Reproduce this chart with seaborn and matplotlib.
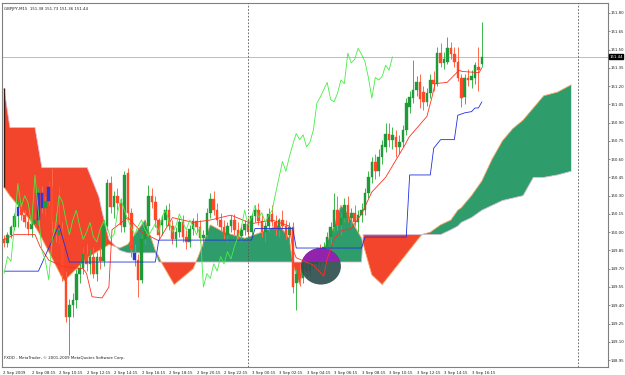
import numpy as np
import pandas as pd
import matplotlib
matplotlib.use("Agg")
import matplotlib.pyplot as plt
import seaborn as sns
from matplotlib.patches import Ellipse, Rectangle

# ---------------- data ----------------
title_text = "GBPJPY,M15  151.38 151.73 151.36 151.44"
copyright_text = "FXDD - MetaTrader, \u00a9 2001-2009 MetaQuotes Software Corp."
x_tick_labels = ["2 Sep 2009", "2 Sep 08:15", "2 Sep 10:15", "2 Sep 12:15", "2 Sep 14:15",
                 "2 Sep 16:15", "2 Sep 18:15", "2 Sep 20:15", "2 Sep 22:15", "3 Sep 00:15",
                 "3 Sep 02:15", "3 Sep 04:15", "3 Sep 06:15", "3 Sep 08:15", "3 Sep 10:15",
                 "3 Sep 12:15", "3 Sep 14:15", "3 Sep 16:15"]
x_tick_bars = [-0.3, 8, 16, 24, 32, 40, 48, 56, 64, 72, 80, 88, 96, 104, 112, 120, 128, 136]
y_ticks = [148.95, 149.10, 149.25, 149.40, 149.55, 149.70, 149.85, 150.00, 150.15, 150.30,
           150.45, 150.60, 150.75, 150.90, 151.05, 151.20, 151.35, 151.50, 151.65, 151.80]
last_price = 151.44
day_separators = [71, 167]

opens = [149.94, 149.91, 149.98, 150.04, 150.13, 150.21, 150.14, 150.08, 150.03, 150.07,
         150.10, 150.32, 150.20, 150.26, 150.37, 150.08, 149.98, 150.02, 149.63, 149.30,
         149.40, 149.44, 149.66, 149.71, 149.82, 149.74, 149.80, 149.66, 149.80, 149.76,
         150.05, 150.40, 150.21, 150.30, 150.24, 150.04, 150.49, 150.16, 149.83, 149.77,
         149.61, 149.94, 150.05, 150.30, 150.25, 150.10, 150.06, 150.10, 150.18, 150.05,
         149.94, 150.00, 150.08, 149.96, 149.92, 150.03, 150.09, 150.04, 149.95, 149.98,
         150.16, 150.27, 150.18, 150.10, 150.04, 149.98, 150.05, 150.10, 150.02, 149.97,
         150.02, 150.07, 150.00, 150.13, 150.18, 150.09, 150.00, 150.05, 150.15, 150.08,
         150.02, 150.10, 150.05, 149.98, 150.04, 149.58, 149.66, 149.62, 149.74, 149.68,
         149.80, 149.74, 149.84, 149.78, 149.88, 149.96, 150.04, 150.18, 150.06, 150.12,
         150.22, 150.12, 150.16, 150.08, 150.14, 150.18, 150.32, 150.45, 150.58, 150.50,
         150.62, 150.70, 150.81, 150.76, 150.78, 150.70, 150.74, 150.84, 151.03, 151.10,
         151.17, 151.23, 151.15, 151.07, 151.14, 151.25, 151.22, 151.47, 151.39, 151.40,
         151.51, 151.46, 151.40, 151.27, 151.11, 151.27, 151.25, 151.27, 151.36, 151.38]
highs = [149.98, 150.00, 150.06, 150.16, 150.26, 150.24, 150.18, 150.12, 150.10, 150.16,
         150.36, 150.38, 150.30, 150.42, 150.52, 150.16, 150.37, 150.08, 149.68, 149.45,
         149.50, 149.70, 149.76, 149.88, 149.90, 149.86, 149.88, 149.84, 149.88, 150.10,
         150.44, 150.46, 150.34, 150.36, 150.28, 150.50, 150.53, 150.20, 149.90, 149.82,
         149.98, 150.10, 150.39, 150.36, 150.30, 150.12, 150.14, 150.22, 150.24, 150.10,
         150.04, 150.12, 150.14, 150.02, 150.06, 150.12, 150.16, 150.10, 150.02, 150.20,
         150.32, 150.34, 150.24, 150.16, 150.10, 150.08, 150.14, 150.15, 150.08, 150.06,
         150.10, 150.12, 150.16, 150.22, 150.24, 150.14, 150.08, 150.20, 150.22, 150.14,
         150.12, 150.18, 150.10, 150.08, 150.08, 149.70, 149.74, 149.78, 149.82, 149.84,
         149.86, 149.88, 149.90, 149.92, 150.00, 150.08, 150.32, 150.30, 150.16, 150.28,
         150.30, 150.20, 150.22, 150.18, 150.24, 150.36, 150.50, 150.62, 150.64, 150.68,
         150.76, 150.90, 150.90, 150.86, 150.84, 150.80, 150.88, 151.10, 151.16, 151.41,
         151.28, 151.30, 151.20, 151.18, 151.30, 151.32, 151.52, 151.55, 151.48, 151.60,
         151.56, 151.52, 151.52, 151.30, 151.30, 151.34, 151.33, 151.40, 151.52, 151.73]
lows = [149.88, 149.88, 149.95, 150.02, 150.04, 150.10, 150.04, 149.98, 149.96, 150.04,
        150.06, 150.16, 150.14, 150.22, 150.00, 149.92, 149.90, 149.60, 149.26, 148.99,
        149.30, 149.38, 149.58, 149.66, 149.68, 149.66, 149.62, 149.60, 149.70, 149.72,
        150.02, 150.16, 150.12, 150.18, 150.00, 150.00, 150.10, 149.80, 149.72, 149.47,
        149.58, 149.90, 149.96, 150.20, 150.04, 149.94, 149.98, 150.05, 150.02, 149.90,
        149.88, 149.96, 149.92, 149.86, 149.88, 149.98, 150.00, 149.92, 149.88, 149.95,
        150.12, 150.14, 150.06, 150.00, 149.94, 149.92, 150.00, 149.98, 149.94, 149.92,
        149.98, 149.98, 149.97, 150.08, 150.06, 149.96, 149.92, 150.00, 150.05, 149.98,
        149.96, 150.02, 149.94, 149.92, 149.50, 149.36, 149.56, 149.58, 149.64, 149.64,
        149.70, 149.70, 149.72, 149.74, 149.84, 149.90, 150.00, 150.02, 149.98, 150.08,
        150.08, 150.04, 150.05, 150.00, 150.08, 150.14, 150.28, 150.40, 150.44, 150.46,
        150.56, 150.66, 150.70, 150.68, 150.62, 150.64, 150.70, 150.80, 150.98, 151.06,
        151.12, 151.02, 151.00, 151.04, 151.10, 151.16, 151.20, 151.36, 151.34, 151.38,
        151.42, 151.36, 151.24, 151.03, 151.05, 151.20, 151.18, 151.22, 151.16, 151.36]
closes = [149.91, 149.98, 150.04, 150.13, 150.21, 150.14, 150.08, 150.03, 150.07, 150.10,
          150.32, 150.20, 150.26, 150.37, 150.08, 149.98, 150.02, 149.65, 149.30, 149.40,
          149.44, 149.66, 149.71, 149.82, 149.74, 149.80, 149.66, 149.80, 149.76, 150.05,
          150.40, 150.21, 150.30, 150.24, 150.06, 150.47, 150.16, 149.85, 149.77, 149.61,
          149.94, 150.05, 150.30, 150.25, 150.10, 149.98, 150.10, 150.18, 150.05, 149.94,
          150.00, 150.08, 149.96, 149.92, 150.03, 150.09, 150.04, 149.95, 149.98, 150.16,
          150.27, 150.18, 150.10, 150.04, 149.98, 150.05, 150.10, 150.02, 149.97, 150.02,
          150.07, 150.00, 150.13, 150.18, 150.09, 150.00, 150.05, 150.15, 150.08, 150.02,
          150.10, 150.05, 149.98, 150.04, 149.55, 149.66, 149.62, 149.74, 149.68, 149.80,
          149.74, 149.84, 149.78, 149.88, 149.96, 150.04, 150.18, 150.06, 150.12, 150.22,
          150.12, 150.16, 150.08, 150.14, 150.18, 150.32, 150.45, 150.58, 150.50, 150.62,
          150.72, 150.81, 150.76, 150.80, 150.70, 150.74, 150.84, 151.06, 151.11, 151.17,
          151.23, 151.09, 151.07, 151.14, 151.25, 151.22, 151.47, 151.39, 151.42, 151.51,
          151.46, 151.40, 151.27, 151.10, 151.27, 151.25, 151.28, 151.37, 151.33, 151.44]
blue_bars = [4, 10, 11, 13, 38]

# Ichimoku lines read as breakpoints (bar index, price)
tenkan_bars = [0, 3, 9, 10.5, 13, 17, 23, 24, 25.6, 28.5, 30.5, 31.4, 36, 40, 45, 49, 55, 60, 66, 72, 78, 83,
               84, 85, 90, 93, 94, 96, 98, 101, 104, 107, 111, 116.7, 117.8, 123, 124.5, 125.4, 128.9,
               132.4, 133.2, 138.2, 139]
tenkan_vals = [149.94, 149.98, 149.98, 149.88, 149.77, 149.72, 149.70, 149.66, 149.47, 149.46, 149.55, 150.02,
               150.12, 150.00, 149.93, 150.12, 150.08, 150.10, 150.14, 150.07, 150.10, 150.05, 149.86, 149.79,
               149.73, 149.64, 149.78, 149.94, 150.01, 150.03, 150.15, 150.33, 150.45, 150.72, 150.78,
               150.95, 151.11, 151.22, 151.23, 151.33, 151.32, 151.31, 151.35]
kijun_bars = [0, 10, 16, 19, 44, 45, 72, 73, 84, 85, 104, 105, 117, 118, 124, 125, 127, 131, 132, 134, 136,
              137, 138, 139]
kijun_vals = [149.68, 149.68, 150.06, 149.755, 149.755, 149.935, 149.935, 150.03, 150.03, 149.87, 149.87,
              149.96, 149.96, 150.47, 150.47, 150.69, 150.76, 150.76, 150.96, 150.98, 150.99, 151.02, 151.02,
              151.07]
cloud_bars = [0, 1.7, 9, 11, 17, 17.5, 24.2, 27.6, 28.5, 30.5, 33.7, 36, 41, 44, 45, 46, 49.5, 55, 56.5, 60, 64,
              70, 75, 80, 83, 84, 86, 87.5, 88, 93, 96, 98, 100, 103, 104, 104.5, 107, 110, 121.5, 124, 127,
              130, 132, 133, 136, 139, 142, 145, 148, 151, 154, 157, 161, 165]
span_a = [150.37, 150.30, 150.05, 149.95, 149.62, 149.60, 149.79, 149.85, 149.86, 149.90, 149.87, 149.90,
          150.10, 149.85, 149.80, 149.74, 149.57, 149.70, 149.80, 150.06, 150.00, 149.95, 150.00, 150.06,
          149.95, 149.74, 149.57, 149.74, 149.80, 149.86, 150.05, 150.22, 150.15, 150.00, 149.95, 149.90,
          149.65, 149.57, 149.98, 150.00, 150.06, 150.10, 150.18, 150.20, 150.30, 150.42, 150.60, 150.75,
          150.85, 150.92, 151.02, 151.12, 151.15, 151.21]
span_b = [151.18, 150.86, 150.86, 150.53, 150.53, 150.53, 150.53, 150.29, 150.17, 149.94, 149.85, 149.83,
          149.83, 149.83, 149.755, 149.755, 149.755, 149.755, 149.755, 149.755, 149.755, 149.755, 149.755,
          149.755, 149.755, 149.755, 149.755, 149.755, 149.755, 149.755, 149.755, 149.755, 149.755, 149.755,
          149.755, 149.98, 149.98, 149.98, 149.98, 149.98, 149.98, 150.02, 150.05, 150.08, 150.12, 150.18,
          150.22, 150.26, 150.28, 150.30, 150.45, 150.45, 150.47, 150.50]

# ---------------- figure ----------------
sns.set_theme(style="white")
plt.rcParams['font.family'] = ['DejaVu Sans']
FS = 2.8
fig = plt.figure(figsize=(6.25, 3.75), dpi=100)
ax = fig.add_axes([2 / 625, 1 - 367 / 375, 606 / 625, 364 / 375])
ax.set_facecolor("white")
ax.set_xlim(-0.6, 175.7)
ax.set_ylim(148.893, 151.882)

GREEN_CLOUD = "#2f9c6c"
RED_CLOUD = "#f2452b"

# cloud
cb = np.array(cloud_bars, dtype=float)
grid = np.linspace(cb.min(), cb.max(), 2000)
a = np.interp(grid, cb, span_a)
b = np.interp(grid, cb, span_b)
ax.fill_between(grid, a, b, where=a >= b, color=GREEN_CLOUD, lw=0, interpolate=True, zorder=1)
ax.fill_between(grid, a, b, where=a < b, color=RED_CLOUD, lw=0, interpolate=True, zorder=1)
sns.lineplot(x=cloud_bars, y=span_a, ax=ax, color="#f4a460", lw=0.6, zorder=2)
sns.lineplot(x=cloud_bars, y=span_b, ax=ax, color="#d8bfd8", lw=0.6, zorder=2)
ax.vlines([cloud_bars[0]], [span_a[0]], [span_b[0]], color="#3a1a10", lw=1.0, zorder=2.5)

# candles
n = len(closes)
idx = np.arange(n)
df = pd.DataFrame({"bar": idx, "open": opens, "close": closes, "high": highs, "low": lows})
up = (df.close >= df.open).values
blue = df.bar.isin(blue_bars).values
ax.vlines(df.bar[up], df.low[up], df.high[up], color="#3cb84a", lw=0.7, zorder=4)
ax.vlines(df.bar[~up], df.low[~up], df.high[~up], color="#ff6a4a", lw=0.7, zorder=4)
body_lo = np.minimum(df.open, df.close)
body_h = (df.close - df.open).abs().clip(lower=0.006)
m_up = up & ~blue
m_dn = ~up & ~blue
ax.bar(df.bar[m_up], body_h[m_up], bottom=body_lo[m_up], width=0.75, color="#1f9a3a", edgecolor="#1f9a3a", lw=0.3, zorder=5)
ax.bar(df.bar[m_dn], body_h[m_dn], bottom=body_lo[m_dn], width=0.75, color="#ff4a2a", edgecolor="#ff4a2a", lw=0.3, zorder=5)
ax.bar(df.bar[blue], body_h[blue], bottom=body_lo[blue], width=0.75, color="#2a3ad8", edgecolor="#2a3ad8", lw=0.3, zorder=5)

# ellipse objects (drawn over the candles)
ell = Ellipse((92.2, 149.72), 11.6, 0.30, facecolor="#2f4f4f", edgecolor="none", alpha=0.92, zorder=5.5)
ax.add_patch(ell)
ell2 = Ellipse((92.2, 149.72), 11.6, 0.30, facecolor="#9b1fb5", edgecolor="none", alpha=0.92, zorder=5.6)
ax.add_patch(ell2)
clip = Rectangle((80, 149.755), 30, 0.5, transform=ax.transData)
ell2.set_clip_path(clip)

# ichimoku lines
sns.lineplot(x=tenkan_bars, y=tenkan_vals, ax=ax, color="#ff3020", lw=0.6, zorder=6)
sns.lineplot(x=kijun_bars, y=kijun_vals, ax=ax, color="#2030e0", lw=0.6, zorder=6)
chikou_x = idx[26:] - 26
sns.lineplot(x=chikou_x, y=np.array(closes)[26:], ax=ax, color="#44ee44", lw=0.6, zorder=6)

# separators and price line
for s in day_separators:
    ax.axvline(s, color="#555555", lw=0.6, ls=(0, (2, 2)), zorder=7)
ax.axhline(last_price, color="#bbbbbb", lw=0.7, zorder=0.5)

# axes styling
for sp in ax.spines.values():
    sp.set_color("#808080")
    sp.set_linewidth(0.8)
ax.yaxis.tick_right()
ax.set_yticks(y_ticks)
ax.set_yticklabels([f"{v:.2f}" for v in y_ticks], fontsize=FS, color="#202020")
ax.tick_params(axis="y", direction="out", length=1.5, width=0.5, pad=0.6, colors="#606060", labelcolor="#202020")
ax.set_xticks(x_tick_bars)
ax.set_xticklabels(x_tick_labels, fontsize=FS, color="#202020", ha="left")
ax.tick_params(axis="x", direction="out", length=2, width=0.5, pad=0.8, colors="#606060", labelcolor="#202020")
for lbl in ax.get_xticklabels():
    lbl.set_horizontalalignment("left")
ax.set_xlabel("")
ax.set_ylabel("")
ax.grid(False)

ax.text(0.003, 0.988, title_text, transform=ax.transAxes, fontsize=FS, va="top", ha="left", color="#202020")
ax.text(0.003, 0.018, copyright_text, transform=ax.transAxes, fontsize=FS, va="bottom", ha="left", color="#202020")
ax.text(1.002, last_price, f"{last_price:.2f}", transform=ax.get_yaxis_transform(), fontsize=FS,
        va="center", ha="left", color="white", bbox=dict(boxstyle="square,pad=0.15", fc="black", ec="black"),
        zorder=10, clip_on=False)

fig.savefig("out.png", dpi=100)
